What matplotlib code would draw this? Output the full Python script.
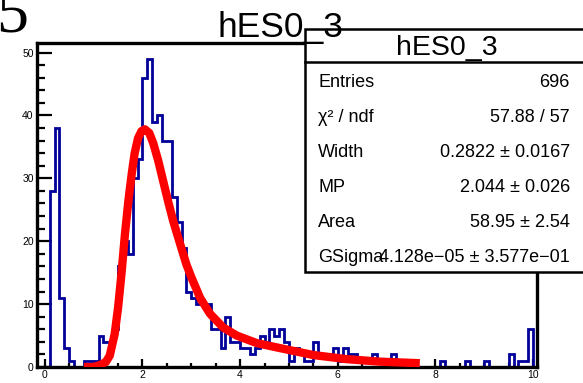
import numpy as np
import matplotlib
matplotlib.use('Agg')
from matplotlib import pyplot as plt
from matplotlib.patches import Rectangle

plt.rcParams['font.family'] = ['Liberation Sans', 'DejaVu Sans']

# histogram hES0_3, bins of 0.1 from 0 to 10
bin_edges = np.round(np.arange(0, 10.01, 0.1), 2)
counts = [0, 28, 38, 11, 3, 1, 0, 0, 1, 1,
          1, 5, 4, 4, 6, 16, 20, 18, 30, 33,
          46, 49, 39, 40, 36, 36, 27, 23, 19, 12,
          11, 10, 10, 10, 6, 6, 3, 8, 4, 4,
          3, 3, 2, 3, 5, 4, 6, 5, 6, 4,
          1, 3, 2, 1, 1, 4, 2, 2, 2, 3,
          1, 3, 2, 2, 1, 1, 1, 2, 1, 1,
          1, 2, 1, 0, 0, 0, 0, 0, 0, 0,
          0, 1, 0, 0, 0, 0, 1, 0, 0, 0,
          1, 0, 0, 0, 0, 2, 0, 1, 1, 6]

# fit curve
fit_x = [0.80, 1.00, 1.13, 1.25, 1.33, 1.43, 1.50, 1.57, 1.64, 1.71, 1.78, 1.84,
         1.91, 1.98, 2.05, 2.14, 2.22, 2.32, 2.42, 2.53, 2.63, 2.77, 2.90, 3.00,
         3.18, 3.38, 3.65, 3.93, 4.34, 4.82, 5.50, 6.18, 6.86, 7.68]
fit_y = [0.0, 0.0, 0.3, 0.8, 1.8, 5.2, 9.4, 14.8, 21.0, 26.3, 30.7, 34.0,
         36.4, 37.5, 37.8, 37.2, 35.6, 32.9, 29.7, 26.2, 23.2, 19.6, 16.3, 14.3,
         11.0, 8.5, 6.3, 5.0, 3.8, 3.0, 1.9, 1.25, 0.85, 0.6]

stat_labels = ['Entries', 'χ² / ndf', 'Width', 'MP', 'Area', 'GSigma']
stat_values = ['696', '57.88 / 57', '0.2822 ± 0.0167', '2.044 ± 0.026',
               '58.95 ± 2.54', '4.128e−05 ± 3.577e−01']

W, H = 583, 383
fig = plt.figure(figsize=(W / 100, H / 100), dpi=100)
ax = fig.add_axes([36.5 / W, 1 - 367 / H, (537 - 36.5) / W, (367 - 42.5) / H])

ax.stairs(counts, bin_edges, color='#000099', lw=2, zorder=2)
ax.plot(fit_x, fit_y, color='red', lw=6, solid_capstyle='butt', zorder=3)

ax.set_xlim(-0.17, 10.08)
ax.set_ylim(0, 51.6)
ax.set_xticks([0, 2, 4, 6, 8, 10])
ax.set_xticks(np.arange(0, 10.01, 0.5), minor=True)
ax.set_yticks([0, 10, 20, 30, 40, 50])
ax.set_yticks(np.arange(0, 51, 2), minor=True)
ax.tick_params(which='both', direction='in', labelsize=7.5, width=1.6, top=False, right=False)
ax.tick_params(axis='x', which='major', length=6, pad=2)
ax.tick_params(axis='x', which='minor', length=3)
ax.tick_params(axis='y', which='major', length=11, pad=2)
ax.tick_params(axis='y', which='minor', length=5.5)
for s in ax.spines.values():
    s.set_linewidth(2.4)

# stats box
fig.add_artist(Rectangle((305 / W, 1 - 272 / H), 300 / W, (272 - 29) / H,
                         transform=fig.transFigure, facecolor='white',
                         edgecolor='black', lw=1.8, zorder=5))
fig.add_artist(plt.Line2D([305 / W, 1], [1 - 62 / H, 1 - 62 / H],
                          transform=fig.transFigure, color='black', lw=1.8, zorder=6))
fig.text(446.5 / W, 1 - 55 / H, 'hES0_3', fontsize=20.5, ha='center', va='baseline', zorder=7)
for i, (lab, val) in enumerate(zip(stat_labels, stat_values)):
    yb = 1 - (87.3 + 34.9 * i) / H
    fig.text(318 / W, yb, lab, fontsize=13, ha='left', va='baseline', zorder=7)
    fig.text(570 / W, yb, val, fontsize=13, ha='right', va='baseline', zorder=7)

# title on top of everything
fig.text(218 / W, 1 - 36.7 / H, 'hES0_3', fontsize=25.5, ha='left', va='baseline', zorder=10)
# clipped panel number at top left
fig.text(-4 / W, 1 - 32 / H, '5', fontsize=46, family='Liberation Serif',
         ha='left', va='baseline', zorder=10)

fig.savefig('out.png', dpi=100)
